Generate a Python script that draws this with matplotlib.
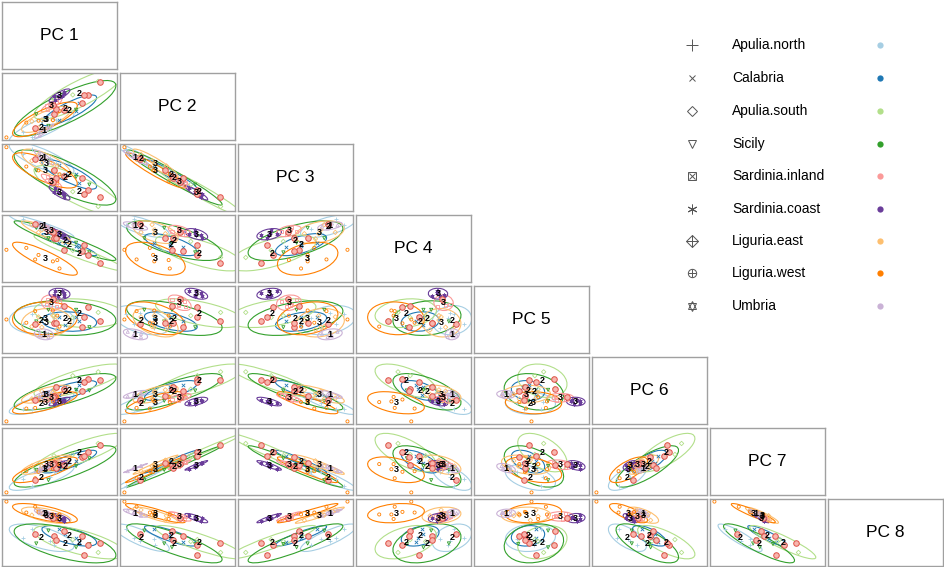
import numpy as np
import matplotlib
matplotlib.use('Agg')
import matplotlib.pyplot as plt
from matplotlib.patches import Ellipse

plt.rcParams['font.family'] = ['Liberation Sans', 'DejaVu Sans']

# regions, colours and the area label printed at each group centre
regions = ['Apulia.north', 'Calabria', 'Apulia.south', 'Sicily', 'Sardinia.inland',
           'Sardinia.coast', 'Liguria.east', 'Liguria.west', 'Umbria']
colors = ['#a6cee3', '#1f78b4', '#b2df8a', '#33a02c', '#fb9a99',
          '#6a3d9a', '#fdbf6f', '#ff7f00', '#cab2d6']
area_labels = ['2', '2', '2', '2', '3', '3', '3', '3', '1']
pc_names = ['PC 1', 'PC 2', 'PC 3', 'PC 4', 'PC 5', 'PC 6', 'PC 7', 'PC 8']

# scores on PC1..PC8 (rescaled to 0-100 of each panel)
apulia_north = [[25, 3, 94, 87, 59, 22, 12, 56], [17, 11, 87, 96, 43, 21, 23, 41],
                [41, 16, 81, 83, 60, 32, 26, 37], [28, 16, 79, 88, 43, 35, 22, 47],
                [47, 29, 73, 74, 37, 31, 34, 40], [45, 30, 64, 81, 52, 39, 34, 30]]
calabria = [[50, 29, 69, 58, 54, 43, 38, 55], [45, 39, 61, 67, 44, 42, 47, 45],
            [65, 43, 55, 54, 54, 52, 51, 42], [55, 43, 55, 59, 42, 55, 48, 48],
            [70, 55, 49, 46, 39, 50, 57, 44], [68, 55, 41, 52, 48, 58, 58, 35]]
apulia_south = [[54, 45, 53, 47, 71, 53, 44, 52], [45, 62, 39, 61, 56, 52, 59, 36],
                [76, 68, 30, 40, 70, 68, 65, 31], [62, 68, 28, 47, 53, 73, 61, 39],
                [87, 88, 19, 27, 48, 66, 76, 33], [85, 89, 5, 36, 61, 79, 78, 19]]
sicily = [[40, 20, 76, 66, 65, 34, 21, 53], [29, 38, 61, 82, 47, 34, 37, 33],
          [65, 45, 51, 59, 65, 51, 43, 27], [47, 46, 49, 67, 44, 56, 40, 39],
          [77, 66, 39, 44, 38, 50, 55, 32], [72, 68, 24, 55, 54, 63, 58, 15]]
sardinia_inland = [[39, 45, 51, 77, 81, 36, 40, 80], [38, 51, 46, 83, 73, 35, 45, 75],
                   [44, 52, 43, 76, 82, 40, 46, 73], [42, 51, 45, 79, 72, 41, 43, 76],
                   [47, 57, 42, 72, 70, 39, 48, 75], [47, 56, 37, 76, 78, 42, 48, 71]]
sardinia_coast = [[46, 60, 33, 72, 94, 30, 39, 77], [45, 66, 28, 78, 88, 29, 44, 72],
                  [52, 67, 26, 71, 94, 34, 45, 71], [49, 66, 27, 74, 87, 35, 42, 74],
                  [54, 72, 24, 67, 86, 33, 47, 72], [54, 71, 19, 71, 91, 36, 47, 68]]
liguria_east = [[31, 17, 86, 75, 54, 38, 35, 85], [25, 27, 76, 87, 39, 37, 43, 77],
                [44, 29, 71, 73, 56, 47, 46, 75], [34, 29, 73, 79, 38, 49, 43, 79],
                [48, 40, 68, 65, 34, 44, 51, 76], [46, 39, 58, 73, 49, 51, 52, 69]]
liguria_west = [[28, 13, 78, 33, 63, 23, 24, 90], [20, 25, 67, 51, 45, 22, 35, 81],
                [44, 29, 61, 30, 64, 33, 38, 78], [31, 28, 61, 40, 44, 36, 34, 82],
                [50, 43, 55, 19, 39, 32, 46, 78], [48, 42, 44, 32, 56, 40, 46, 71]]
umbria = [[32, 5, 88, 86, 31, 41, 35, 84], [32, 10, 83, 89, 25, 41, 39, 80],
          [37, 12, 81, 84, 31, 45, 40, 79], [35, 11, 82, 86, 24, 46, 39, 81],
          [40, 17, 79, 81, 23, 44, 43, 80], [40, 17, 74, 84, 28, 47, 43, 76]]
liguria_outlier = [2, 2, 97, 48, 50, 2, 2, 98]

# samples ringed in red (region index, row)
flagged = [(2, 0), (2, 2), (2, 4), (1, 1), (1, 4), (3, 3), (3, 5), (4, 2), (0, 3)]

scores = [np.array(s, dtype=float) for s in
          [apulia_north, calabria, apulia_south, sicily, sardinia_inland,
           sardinia_coast, liguria_east, liguria_west, umbria]]

hollow = [False, False, True, True, True, False, True, True, True]
markers = ['+', 'x', 'D', 'v', 's', (6, 2, 0), 'D', 'o', '^']

W, H = 945, 567
fig = plt.figure(figsize=(9.45, 5.67), dpi=100)
frame_col = '#a0a0a0'


def add_box(col, row):
    x0 = 2 + 118 * col
    y0 = 2 + 71 * row
    ax = fig.add_axes([x0 / W, 1 - (y0 + 67) / H, 115 / W, 67 / H])
    ax.set_xticks([])
    ax.set_yticks([])
    for sp in ax.spines.values():
        sp.set_color(frame_col)
        sp.set_linewidth(1.0)
    return ax


def cov_ellipse(ax, x, y, color, k=2.4):
    cov = np.cov(x, y)
    vals, vecs = np.linalg.eigh(cov)
    order = vals.argsort()[::-1]
    vals, vecs = vals[order], vecs[:, order]
    angle = np.degrees(np.arctan2(vecs[1, 0], vecs[0, 0]))
    w, h = 2 * k * np.sqrt(vals)
    ax.add_patch(Ellipse((x.mean(), y.mean()), w, h, angle=angle, fill=False,
                         ec=color, lw=0.8))


for r in range(8):
    for c in range(r + 1):
        ax = add_box(c, r)
        ax.set_xlim(-2, 102)
        ax.set_ylim(-2, 102)
        if r == c:
            ax.text(0.5, 0.5, pc_names[r], transform=ax.transAxes,
                    ha='center', va='center', fontsize=12.5)
            continue
        for g, s in enumerate(scores):
            cov_ellipse(ax, s[:, c], s[:, r], colors[g])
        for g, s in enumerate(scores):
            if hollow[g]:
                ax.scatter(s[:, c], s[:, r], s=5, marker=markers[g],
                           facecolors='none', edgecolors=colors[g], linewidths=0.6)
            else:
                ax.scatter(s[:, c], s[:, r], s=6, marker=markers[g],
                           color=colors[g], linewidths=0.6)
        ax.scatter([liguria_outlier[c]], [liguria_outlier[r]], s=5, marker='o',
                   facecolors='none', edgecolors=colors[7], linewidths=0.6)
        for g, i in flagged:
            ax.scatter(scores[g][i, c], scores[g][i, r], s=16, marker='o',
                       facecolors='#f7b6ae', edgecolors='#e0524a', linewidths=0.7,
                       zorder=3)
        for g, s in enumerate(scores):
            ax.text(s[:, c].mean(), s[:, r].mean(), area_labels[g], fontsize=6.5,
                    fontweight='bold', ha='center', va='center', zorder=4)

# legend on an overlay in pixel coordinates
lg = fig.add_axes([0, 0, 1, 1], facecolor='none')
lg.set_xlim(0, W)
lg.set_ylim(H, 0)
lg.axis('off')
sym = '#555555'
rows_y = [45, 78, 111, 144, 176, 209, 241, 273, 306]
for g, name in enumerate(regions):
    y = rows_y[g]
    kw = dict(color=sym, mfc='none', mew=0.7)
    if g == 0:
        lg.plot(692, y, marker='+', ms=8, **kw)
    elif g == 1:
        lg.plot(692, y, marker='x', ms=5, **kw)
    elif g == 2:
        lg.plot(692, y, marker='D', ms=5.5, **kw)
    elif g == 3:
        lg.plot(692, y, marker='v', ms=6, **kw)
    elif g == 4:
        lg.plot(692, y, marker='s', ms=6, **kw)
        lg.plot(692, y, marker='x', ms=5, **kw)
    elif g == 5:
        lg.plot(692, y, marker=(6, 2, 0), ms=7, **kw)
    elif g == 6:
        lg.plot(692, y, marker='D', ms=6, **kw)
        lg.plot(692, y, marker='+', ms=8, **kw)
    elif g == 7:
        lg.plot(692, y, marker='o', ms=6, **kw)
        lg.plot(692, y, marker='+', ms=6, **kw)
    else:
        lg.plot(692, y - 1, marker='^', ms=6, **kw)
        lg.plot(692, y + 1, marker='v', ms=6, **kw)
    lg.text(732, y, name, fontsize=10, va='center', ha='left')
    lg.plot(880, y, marker='o', ms=4.5, color=colors[g], mec='none')

fig.savefig('out.png', dpi=100)
